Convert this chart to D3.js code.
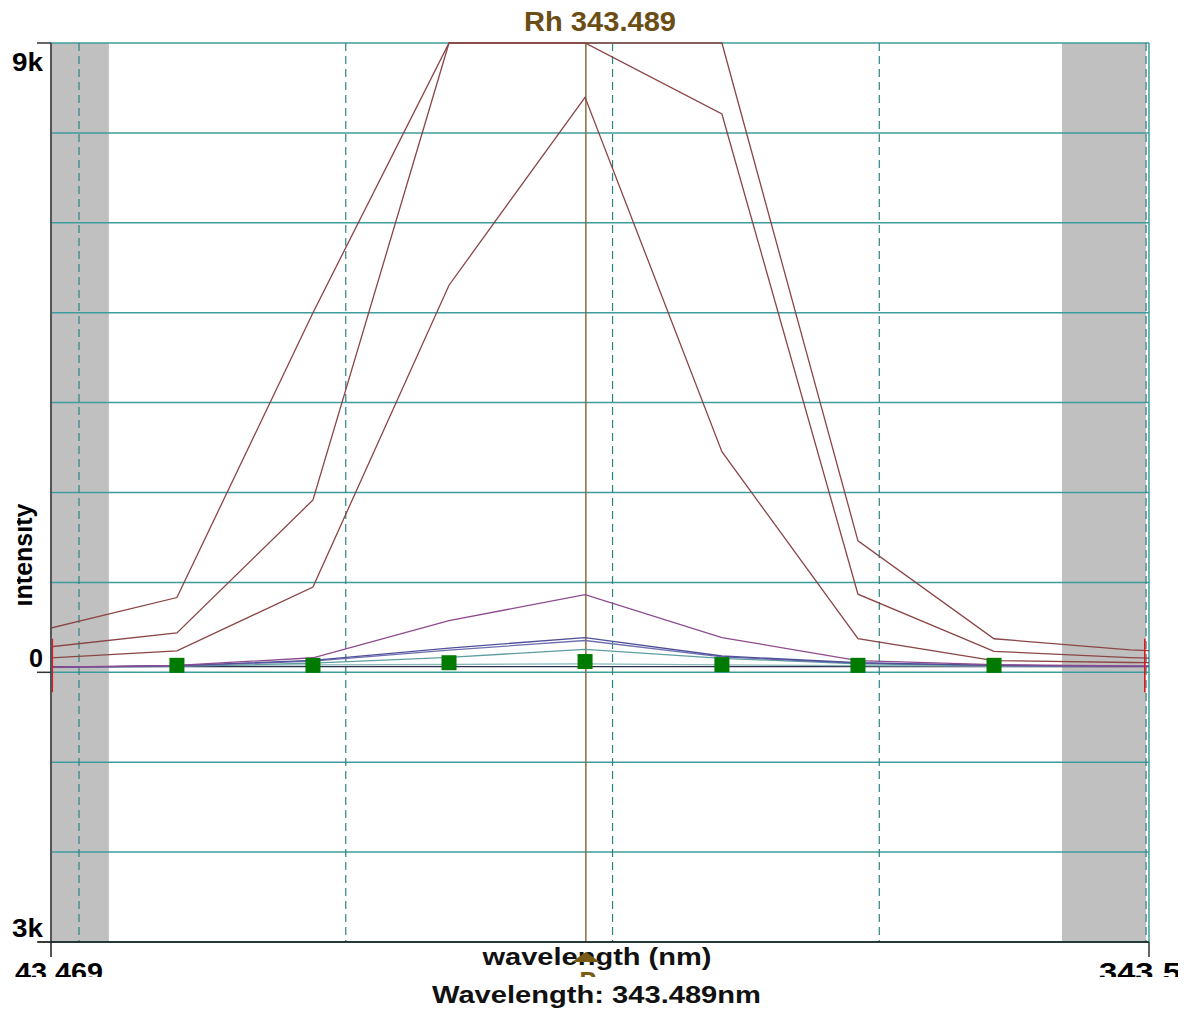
<!DOCTYPE html>
<html>
<head>
<meta charset="utf-8">
<script src="https://cdn.jsdelivr.net/npm/d3@7"></script>
<style>
  body { margin: 0; background: #fff; }
  text { font-family: "Liberation Sans", Arial, sans-serif; font-weight: bold; }
</style>
</head>
<body>
<script>
// wavelength of each pixel (nm); first and last points fall outside the window
const wavelengths = [343.46858, 343.47367, 343.47877, 343.48387, 343.48897, 343.49410, 343.49920, 343.50430, 343.50940, 343.51450];

// intensities of the replicate scans (values above 9k are clipped at the top)
const scanA = [600, 1069, 5143, 11500, 13000, 11000, 1880, 480, 320, 250];
const scanB = [350, 564, 2464, 10500, 9600, 7984, 1117, 300, 210, 150];
const scanC = [200, 306, 1219, 5536, 8224, 3156, 480, 167, 140, 120];
const scanD = [70, 100, 208, 738, 1111, 497, 167, 110, 90, 80];
const scanE = [70, 95, 171, 347, 497, 233, 137, 100, 85, 80];
const scanF = [70, 90, 160, 317, 455, 220, 130, 100, 85, 80];
const scanG = [70, 85, 130, 214, 329, 200, 120, 95, 85, 80];
const scanH = [60, 100, 105, 112, 122, 105, 95, 90, 85, 80];
const blank = [80, 80, 80, 80, 80, 80, 80, 80, 80, 80];

// green markers on the selected scan
const markerWl = [343.47367, 343.47877, 343.48387, 343.48897, 343.49410, 343.49920, 343.50430];
const markerVals = [100, 100, 137, 154, 110, 100, 100];

const peakWl = 343.489;
const dashedWl = [343.47, 343.48, 343.49, 343.50, 343.51];
const bands = [[343.46895, 343.47112], [343.50685, 343.5100]];
const bgMarkers = [343.46900, 343.50995];

const W = 1189, H = 1016;
const pLeft = 51, pRight = 1149, pTop = 43, pBottom = 942;

const svg = d3.select('body').append('svg')
    .attr('width', W)
    .attr('height', H);

svg.append('rect').attr('width', W).attr('height', H).attr('fill', '#fff');

const x = d3.scaleLinear().domain([343.46895, 343.51011]).range([pLeft, pRight]);
const y = d3.scaleLinear().domain([-3857, 9000]).range([pBottom, pTop]).clamp(true);

const defs = svg.append('defs');
defs.append('clipPath').attr('id', 'plot')
  .append('rect').attr('x', pLeft).attr('y', pTop - 1)
  .attr('width', pRight - pLeft).attr('height', pBottom - pTop + 1);
defs.append('clipPath').attr('id', 'ytitle')
  .append('rect').attr('x', 17).attr('y', 400).attr('width', 34).attr('height', 300);
defs.append('clipPath').attr('id', 'xlabels')
  .append('rect').attr('x', 15).attr('y', 945).attr('width', 1163).attr('height', 32);

// gray background windows
svg.selectAll('rect.band')
  .data(bands)
  .enter().append('rect')
    .attr('class', 'band')
    .attr('x', d => x(d[0]))
    .attr('y', pTop)
    .attr('width', d => x(d[1]) - x(d[0]))
    .attr('height', pBottom - pTop)
    .attr('fill', '#c0c0c0');

// horizontal grid
const gridVals = d3.range(11).map(i => 9000 - i * 9000 / 7);
svg.selectAll('line.grid')
  .data(gridVals)
  .enter().append('line')
    .attr('x1', pLeft).attr('x2', pRight)
    .attr('y1', d => y(d)).attr('y2', d => y(d))
    .attr('stroke', '#3f9c9c')
    .attr('stroke-width', 1.5);

// dashed verticals
svg.selectAll('line.dash')
  .data(dashedWl)
  .enter().append('line')
    .attr('x1', d => x(d)).attr('x2', d => x(d))
    .attr('y1', pTop).attr('y2', pBottom)
    .attr('stroke', '#2d8383')
    .attr('stroke-width', 1.2)
    .attr('stroke-dasharray', '8,5');

// right border
svg.append('line')
  .attr('x1', pRight).attr('x2', pRight).attr('y1', pTop).attr('y2', pBottom)
  .attr('stroke', '#3f9c9c').attr('stroke-width', 1.5);

// peak line
svg.append('line')
  .attr('x1', x(peakWl)).attr('x2', x(peakWl))
  .attr('y1', pTop).attr('y2', pBottom)
  .attr('stroke', '#8a6d3b').attr('stroke-width', 1.5);

const series = [
  { v: blank, c: '#2f2f4f' },
  { v: scanH, c: '#8cb8b8' },
  { v: scanG, c: '#5f9ea0' },
  { v: scanF, c: '#7070b0' },
  { v: scanE, c: '#50509a' },
  { v: scanD, c: '#8e4a8e' },
  { v: scanC, c: '#8b4545' },
  { v: scanB, c: '#8b4545' },
  { v: scanA, c: '#8b4545' }
];

const line = d3.line()
  .x((d, i) => x(wavelengths[i]))
  .y(d => y(d));

const g = svg.append('g').attr('clip-path', 'url(#plot)');
g.selectAll('path.scan')
  .data(series)
  .enter().append('path')
    .attr('d', d => line(d.v))
    .attr('fill', 'none')
    .attr('stroke', d => d.c)
    .attr('stroke-width', 1.3);

// green markers
g.selectAll('rect.mk')
  .data(markerVals)
  .enter().append('rect')
    .attr('x', (d, i) => x(markerWl[i]) - 7.5)
    .attr('y', d => y(d) - 7.5)
    .attr('width', 15)
    .attr('height', 15)
    .attr('fill', '#007a00');

// red background markers
svg.selectAll('line.bg')
  .data(bgMarkers)
  .enter().append('line')
    .attr('x1', d => x(d)).attr('x2', d => x(d))
    .attr('y1', y(480)).attr('y2', y(-285))
    .attr('stroke', '#e8141e').attr('stroke-width', 1.5);

// axes
svg.append('line')
  .attr('x1', pLeft).attr('x2', pLeft).attr('y1', pTop).attr('y2', pBottom + 15)
  .attr('stroke', '#555').attr('stroke-width', 2);
svg.append('line')
  .attr('x1', pLeft - 13).attr('x2', pRight).attr('y1', pBottom).attr('y2', pBottom)
  .attr('stroke', '#111').attr('stroke-width', 1.5);
svg.append('line')
  .attr('x1', pRight).attr('x2', pRight).attr('y1', pBottom).attr('y2', pBottom + 15)
  .attr('stroke', '#333').attr('stroke-width', 1.5);

const yTicks = [
  { v: 9000, label: '9k', dy: 28, len: 31 },
  { v: 0, label: '0', dy: -5, len: 14 },
  { v: -3857, label: '3k', dy: -5, len: 31 }
];
yTicks.forEach(t => {
  svg.append('line')
    .attr('x1', pLeft - 14).attr('x2', pLeft)
    .attr('y1', y(t.v)).attr('y2', y(t.v))
    .attr('stroke', '#333').attr('stroke-width', 1.5);
  svg.append('text')
    .attr('x', 43).attr('y', y(t.v) + t.dy)
    .attr('text-anchor', 'end')
    .attr('font-size', 25)
    .attr('textLength', t.len)
    .attr('lengthAdjust', 'spacingAndGlyphs')
    .text(t.label);
});

// y axis title, partly hidden at the left edge
svg.append('g').attr('clip-path', 'url(#ytitle)')
  .append('text')
    .attr('transform', 'translate(32,555) rotate(-90)')
    .attr('text-anchor', 'middle')
    .attr('font-size', 25)
    .text('intensity');

// title
svg.append('text')
  .attr('x', 600).attr('y', 31)
  .attr('text-anchor', 'middle')
  .attr('font-size', 27)
  .attr('textLength', 152)
  .attr('lengthAdjust', 'spacingAndGlyphs')
  .attr('fill', '#6b4e16')
  .text('Rh 343.489');

// x tick labels, cut by the status strip below
const xTicks = [
  { v: 343.46895, label: '343.469', len: 104 },
  { v: 343.51011, label: '343.51', len: 100 }
];
svg.append('g').attr('clip-path', 'url(#xlabels)')
  .selectAll('text')
  .data(xTicks)
  .enter().append('text')
    .attr('x', d => x(d.v)).attr('y', 981)
    .attr('text-anchor', 'middle')
    .attr('font-size', 25)
    .attr('textLength', d => d.len)
    .attr('lengthAdjust', 'spacingAndGlyphs')
    .text(d => d.label);

svg.append('text')
  .attr('x', 597).attr('y', 965)
  .attr('text-anchor', 'middle')
  .attr('font-size', 24)
  .attr('textLength', 229)
  .attr('lengthAdjust', 'spacingAndGlyphs')
  .attr('fill', '#111')
  .text('wavelength (nm)');

// peak marker
const px = x(peakWl);
svg.append('path')
  .attr('d', `M${px},952 L${px + 14},962 L${px - 14},962 Z`)
  .attr('fill', '#7a5a14');
svg.append('g').attr('clip-path', 'url(#xlabels)')
  .append('text')
    .attr('x', px + 2).attr('y', 990)
    .attr('text-anchor', 'middle')
    .attr('font-size', 25)
    .attr('fill', '#7a5a14')
    .text('P');

svg.append('text')
  .attr('x', 596.5).attr('y', 1003)
  .attr('text-anchor', 'middle')
  .attr('font-size', 24)
  .attr('textLength', 329)
  .attr('lengthAdjust', 'spacingAndGlyphs')
  .attr('fill', '#111')
  .text('Wavelength: 343.489nm');
</script>
</body>
</html>
